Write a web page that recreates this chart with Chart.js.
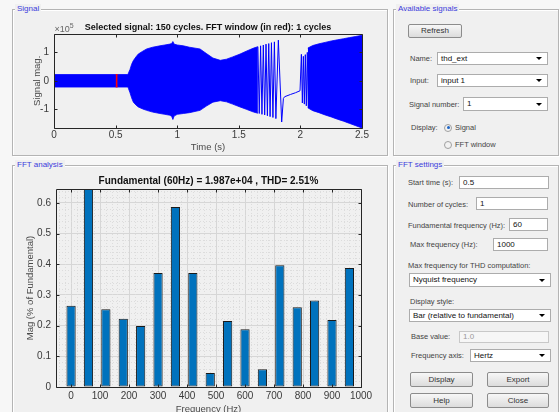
<!DOCTYPE html>
<html lang="en">
<head>
<meta charset="UTF-8">
<title>FFT Analysis</title>
<script src="https://cdn.jsdelivr.net/npm/chart.js"></script>
<style>
  body { margin: 0; width: 560px; height: 412px; overflow: hidden; background: #f7f7f7; position: relative;
         font-family: "Liberation Sans", Arial, sans-serif; }
  .panel { position: absolute; background: #f0f0f0; border: 1px solid #b4b4b4; box-shadow: inset 1px 1px 0 #fff, 1px 1px 0 #fff; }
  .ptitle { position: absolute; top: -6px; left: 2px; padding: 0 2px; background: #f0f0f0; color: #3c3cdc; font-size: 8px; line-height: 10px; }
  .lbl { position: absolute; font-size: 7.5px; line-height: 9px; color: #444; white-space: nowrap; }
  .box { position: absolute; background: #fff; border: 1px solid #acacac; box-sizing: border-box; font-size: 8px; color: #111; padding-left: 3px; white-space: nowrap; }
  .box.off { background: #f6f6f6; color: #9a9a9a; border-color: #c8c8c8; }
  .combo::after { content: ''; position: absolute; right: 5px; top: 50%; margin-top: -1.5px;
                  border-left: 3px solid transparent; border-right: 3px solid transparent; border-top: 3.5px solid #000; }
  .btn { position: absolute; box-sizing: border-box; border: 1px solid #8c8c8c; border-radius: 2px;
         background: linear-gradient(#f7f7f7, #dcdcdc); font-size: 8px; color: #333; text-align: center; }
  .radio { position: absolute; width: 8px; height: 8px; border-radius: 50%; box-sizing: border-box; border: 1px solid #a0a0a0; background: #f2f2f2; }
  .radio.on::after { content: ''; position: absolute; left: 1.5px; top: 1.5px; width: 3px; height: 3px; border-radius: 50%; background: #1d64c4; }
  canvas { position: absolute; }
</style>
</head>
<body>

<div class="panel" style="left:12px; top:9px; width:374px; height:145px;"><span class="ptitle">Signal</span></div>
<div class="panel" style="left:393px; top:9px; width:164px; height:145px;"><span class="ptitle">Available signals</span></div>
<div class="panel" style="left:12px; top:165px; width:374px; height:260px;"><span class="ptitle">FFT analysis</span></div>
<div class="panel" style="left:393px; top:165px; width:164px; height:260px;"><span class="ptitle">FFT settings</span></div>

<!-- available signals -->
<div class="btn" style="left:408px; top:24px; width:54px; height:14px; line-height:12px;">Refresh</div>
<div class="lbl" style="left:410px; top:53.5px;">Name:</div>
<div class="box combo" style="left:437px; top:52px; width:111px; height:13px; line-height:11px;">thd_ext</div>
<div class="lbl" style="left:410px; top:75.5px;">Input:</div>
<div class="box combo" style="left:437px; top:74px; width:111px; height:13px; line-height:11px;">input 1</div>
<div class="lbl" style="left:409px; top:99.5px;">Signal number:</div>
<div class="box combo" style="left:463px; top:97px; width:85px; height:14px; line-height:12px;">1</div>
<div class="lbl" style="left:411px; top:123px;">Display:</div>
<div class="radio on" style="left:444px; top:123.5px;"></div>
<div class="lbl" style="left:455px; top:123px;">Signal</div>
<div class="radio" style="left:444px; top:140.5px;"></div>
<div class="lbl" style="left:455px; top:140px;">FFT window</div>

<!-- FFT settings -->
<div class="lbl" style="left:408px; top:178px;">Start time (s):</div>
<div class="box" style="left:459px; top:176px; width:90px; height:13px; line-height:11px;">0.5</div>
<div class="lbl" style="left:408px; top:200px;">Number of cycles:</div>
<div class="box" style="left:476px; top:197px; width:72px; height:13px; line-height:11px;">1</div>
<div class="lbl" style="left:408px; top:220.5px;">Fundamental frequency (Hz):</div>
<div class="box" style="left:509px; top:218px; width:39px; height:13px; line-height:11px;">60</div>
<div class="lbl" style="left:410px; top:240px;">Max frequency (Hz):</div>
<div class="box" style="left:493px; top:238px; width:55px; height:13px; line-height:11px;">1000</div>
<div class="lbl" style="left:408px; top:260.5px;">Max frequency for THD computation:</div>
<div class="box combo" style="left:409px; top:273px; width:142px; height:14px; line-height:12px;">Nyquist frequency</div>
<div class="lbl" style="left:410px; top:297px;">Display style:</div>
<div class="box combo" style="left:409px; top:309px; width:142px; height:13px; line-height:11px;">Bar (relative to fundamental)</div>
<div class="lbl" style="left:411px; top:332px;">Base value:</div>
<div class="box off" style="left:459px; top:331px; width:90px; height:12px; line-height:10px;">1.0</div>
<div class="lbl" style="left:411px; top:350.5px;">Frequency axis:</div>
<div class="box combo" style="left:470px; top:349px; width:81px; height:13px; line-height:11px;">Hertz</div>
<div class="btn" style="left:410px; top:372px; width:63px; height:15px; line-height:13px;">Display</div>
<div class="btn" style="left:487px; top:372px; width:62px; height:15px; line-height:13px;">Export</div>
<div class="btn" style="left:410px; top:393px; width:63px; height:15px; line-height:13px;">Help</div>
<div class="btn" style="left:487px; top:393px; width:62px; height:15px; line-height:13px;">Close</div>

<canvas id="signalChart" width="385" height="141" style="left:0; top:14px;"></canvas>
<canvas id="fftChart" width="385" height="255" style="left:0; top:165px;"></canvas>

<script>
  const bandATime  = [0, 0.60, 0.605, 0.617, 0.63, 0.644, 0.665, 0.684, 0.72, 0.752, 0.80, 0.86, 0.90, 0.94, 0.955, 0.965, 0.975, 1.0, 1.05, 1.10, 1.185, 1.24, 1.29, 1.35, 1.40, 1.45, 1.51, 1.56, 1.62, 1.655];
  const bandAUpper = [0.22, 0.22, 0.28, 0.40, 0.58, 0.71, 0.84, 0.94, 1.04, 1.12, 1.18, 1.23, 1.26, 1.29, 1.31, 1.38, 1.29, 1.26, 1.23, 1.18, 1.12, 0.95, 0.80, 0.72, 0.76, 0.84, 0.94, 1.04, 1.15, 1.20];
  const bandALower = [-0.22, -0.22, -0.28, -0.42, -0.60, -0.75, -0.85, -0.92, -0.99, -1.04, -1.10, -1.15, -1.18, -1.21, -1.25, -1.36, -1.24, -1.18, -1.15, -1.12, -1.04, -0.88, -0.75, -0.70, -0.74, -0.82, -0.92, -1.00, -1.10, -1.14];
  const bandBTime  = [2.06, 2.10, 2.15, 2.20, 2.25, 2.30, 2.35, 2.40, 2.45, 2.50];
  const bandBUpper = [1.15, 1.24, 1.30, 1.35, 1.40, 1.44, 1.48, 1.52, 1.56, 1.60];
  const bandBLower = [-0.95, -1.05, -1.12, -1.20, -1.27, -1.35, -1.42, -1.50, -1.58, -1.66];
  const traceTime  = [1.655, 1.666, 1.677, 1.688, 1.699, 1.710, 1.721, 1.732, 1.743, 1.754, 1.765, 1.777, 1.789, 1.801, 1.821, 1.848, 1.862, 1.872, 1.92, 1.96, 1.997, 2.008, 2.016, 2.024, 2.032, 2.040, 2.048, 2.056, 2.064];
  const traceValue = [1.20, -1.15, 1.23, -1.18, 1.26, -1.20, 1.29, -1.23, 1.31, -1.26, 1.34, -1.29, 1.37, -1.33, 1.43, -1.45, -0.62, -0.56, -0.48, -0.42, -0.35, 0.93, -0.78, 0.86, -0.82, 0.92, -0.88, 1.00, -0.95];
  const fftWindowTime  = [0.5, 0.5167];
  const fftWindowUpper = [0.22, 0.22];
  const fftWindowLower = [-0.22, -0.22];
  const signalXTicks = [0, 0.5, 1, 1.5, 2, 2.5];
  const signalYTicks = [-1, 0, 1];

  // FFT bars, % of fundamental (the 60 Hz bar is the fundamental, cut by the axis)
  const fftFreq = [0, 60, 120, 180, 240, 300, 360, 420, 480, 540, 600, 660, 720, 780, 840, 900, 960];
  const fftMag  = [0.265, 100, 0.253, 0.222, 0.199, 0.371, 0.586, 0.371, 0.046, 0.215, 0.188, 0.058, 0.397, 0.260, 0.282, 0.218, 0.388];
  const fftXTicks = [0, 100, 200, 300, 400, 500, 600, 700, 800, 900, 1000];
  const fftYTicks = [0, 0.1, 0.2, 0.3, 0.4, 0.5, 0.6];

  const FONT = '"Liberation Sans", Arial, sans-serif';
  const TICK = '#3a3a3a';
  Chart.defaults.font.family = FONT;

  const pts = (xs, ys) => xs.map((x, i) => ({ x, y: ys[i] }));
  const band = (xs, ys, color, fill) => ({
    data: pts(xs, ys), borderColor: color, backgroundColor: color, borderWidth: 0.8,
    pointRadius: 0, tension: 0, fill
  });
  const plain = v => String(v);

  // matlab style axes: box, inward ticks, dotted minor grid
  const matlabBox = {
    id: 'matlabBox',
    beforeDatasetsDraw(chart, args, o) {
      if (!o.minorX) return;
      const { ctx, chartArea: a, scales: { x, y } } = chart;
      ctx.save();
      ctx.strokeStyle = o.minorColor; ctx.lineWidth = 1; ctx.setLineDash([1, 2]);
      ctx.beginPath();
      for (let v = Math.ceil(x.min / o.minorX) * o.minorX; v <= x.max; v += o.minorX) {
        if (v % o.majorX === 0) continue;
        const p = Math.round(x.getPixelForValue(v)) + 0.5;
        ctx.moveTo(p, a.top); ctx.lineTo(p, a.bottom);
      }
      for (let i = 1; i * o.minorY < y.max; i++) {
        if (i % 5 === 0) continue;
        const p = Math.round(y.getPixelForValue(i * o.minorY)) + 0.5;
        ctx.moveTo(a.left, p); ctx.lineTo(a.right, p);
      }
      ctx.stroke();
      ctx.restore();
    },
    afterDatasetsDraw(chart, args, o) {
      const { ctx, chartArea: a, scales: { x, y } } = chart;
      const L = 3;
      const l = Math.round(a.left) + 0.5, r = Math.round(a.right) + 0.5;
      const t = Math.round(a.top) + 0.5, b = Math.round(a.bottom) + 0.5;
      ctx.save();
      ctx.strokeStyle = '#262626'; ctx.lineWidth = 1;
      ctx.beginPath();
      x.ticks.forEach(tk => {
        const p = Math.round(x.getPixelForValue(tk.value)) + 0.5;
        ctx.moveTo(p, b); ctx.lineTo(p, b - L); ctx.moveTo(p, t); ctx.lineTo(p, t + L);
      });
      y.ticks.forEach(tk => {
        const p = Math.round(y.getPixelForValue(tk.value)) + 0.5;
        ctx.moveTo(l, p); ctx.lineTo(l + L, p); ctx.moveTo(r, p); ctx.lineTo(r - L, p);
      });
      ctx.rect(l, t, r - l, b - t);
      ctx.stroke();
      if (o.exponent) {
        ctx.fillStyle = '#666';
        ctx.font = '9px ' + FONT;
        ctx.textBaseline = 'alphabetic';
        ctx.fillText('\u00d710', l, t - 3);
        const w = ctx.measureText('\u00d710').width;
        ctx.font = '7px ' + FONT;
        ctx.fillText(o.exponent, l + w, t - 7);
      }
      ctx.restore();
    }
  };

  new Chart(document.getElementById('signalChart'), {
    type: 'line',
    data: {
      datasets: [
        band(fftWindowTime, fftWindowUpper, '#ff0000', false),
        band(fftWindowTime, fftWindowLower, '#ff0000', '-1'),
        band(bandATime, bandAUpper, '#0000ff', false),
        band(bandATime, bandALower, '#0000ff', '-1'),
        band(bandBTime, bandBUpper, '#0000ff', false),
        band(bandBTime, bandBLower, '#0000ff', '-1'),
        { data: pts(traceTime, traceValue), borderColor: '#0000ff', borderWidth: 1, pointRadius: 0, tension: 0, fill: false }
      ]
    },
    options: {
      responsive: false,
      animation: false,
      layout: { padding: { left: 0, right: 23, top: 0, bottom: 0 } },
      plugins: {
        legend: { display: false },
        tooltip: { enabled: false },
        title: {
          display: true, fullSize: false, color: '#111',
          text: 'Selected signal: 150 cycles. FFT window (in red): 1 cycles',
          font: { size: 9, weight: 'bold' }, padding: { top: 7.9, bottom: 0.9 }
        },
        matlabBox: { exponent: '5' }
      },
      scales: {
        x: {
          type: 'linear', min: 0, max: 2.5,
          afterBuildTicks: s => { s.ticks = signalXTicks.map(v => ({ value: v })); },
          afterFit: s => { s.height = 27; },
          grid: { display: false, drawTicks: false }, border: { display: false },
          ticks: { color: TICK, font: { size: 10 }, padding: 1, maxRotation: 0, autoSkip: false, callback: plain },
          title: { display: true, text: 'Time (s)', color: '#4a4a4a', font: { size: 9.5 }, padding: { top: 0, bottom: 2.3 } }
        },
        y: {
          min: -1.66, max: 1.66,
          afterBuildTicks: s => { s.ticks = signalYTicks.map(v => ({ value: v })); },
          afterFit: s => { s.width = 54; },
          grid: { display: false, drawTicks: false }, border: { display: false },
          ticks: { color: TICK, font: { size: 10 }, padding: 5, callback: plain },
          title: { display: true, text: 'Signal mag.', color: '#4a4a4a', font: { size: 9.5 }, padding: { top: 31.3, bottom: 0 } }
        }
      }
    },
    plugins: [matlabBox]
  });

  new Chart(document.getElementById('fftChart'), {
    type: 'bar',
    data: {
      datasets: [{
        data: pts(fftFreq, fftMag),
        backgroundColor: '#0072bd', borderColor: '#1a1a1a', borderWidth: 1, borderSkipped: false,
        barPercentage: 0.53, categoryPercentage: 1, clip: 0
      }]
    },
    options: {
      responsive: false,
      animation: false,
      layout: { padding: { left: 0, right: 24, top: 0, bottom: 0 } },
      plugins: {
        legend: { display: false },
        tooltip: { enabled: false },
        title: {
          display: true, fullSize: false, color: '#111',
          text: 'Fundamental (60Hz) = 1.987e+04 , THD= 2.51%',
          font: { size: 10, weight: 'bold' }, padding: { top: 10, bottom: 2 }
        },
        matlabBox: { minorX: 20, majorX: 100, minorY: 0.02, minorColor: '#dcdcdc' }
      },
      scales: {
        x: {
          type: 'linear', min: -52, max: 1000, offset: false,
          afterBuildTicks: s => { s.ticks = fftXTicks.map(v => ({ value: v })); },
          afterFit: s => { s.height = 33; },
          grid: { color: '#d6d6d6', drawTicks: false, offset: false }, border: { display: false },
          ticks: { color: TICK, font: { size: 10 }, padding: 3, maxRotation: 0, autoSkip: false, callback: plain },
          title: { display: true, text: 'Frequency (Hz)', color: '#4a4a4a', font: { size: 9.5 }, padding: { top: 0, bottom: 5.3 } }
        },
        y: {
          min: 0, max: 0.645,
          afterBuildTicks: s => { s.ticks = fftYTicks.map(v => ({ value: v })); },
          afterFit: s => { s.width = 56; },
          grid: { color: '#d6d6d6', drawTicks: false }, border: { display: false },
          ticks: { color: TICK, font: { size: 10 }, padding: 5, callback: plain },
          title: { display: true, text: 'Mag (% of Fundamental)', color: '#4a4a4a', font: { size: 9.5 }, padding: { top: 24.3, bottom: 0 } }
        }
      }
    },
    plugins: [matlabBox]
  });
</script>
</body>
</html>
